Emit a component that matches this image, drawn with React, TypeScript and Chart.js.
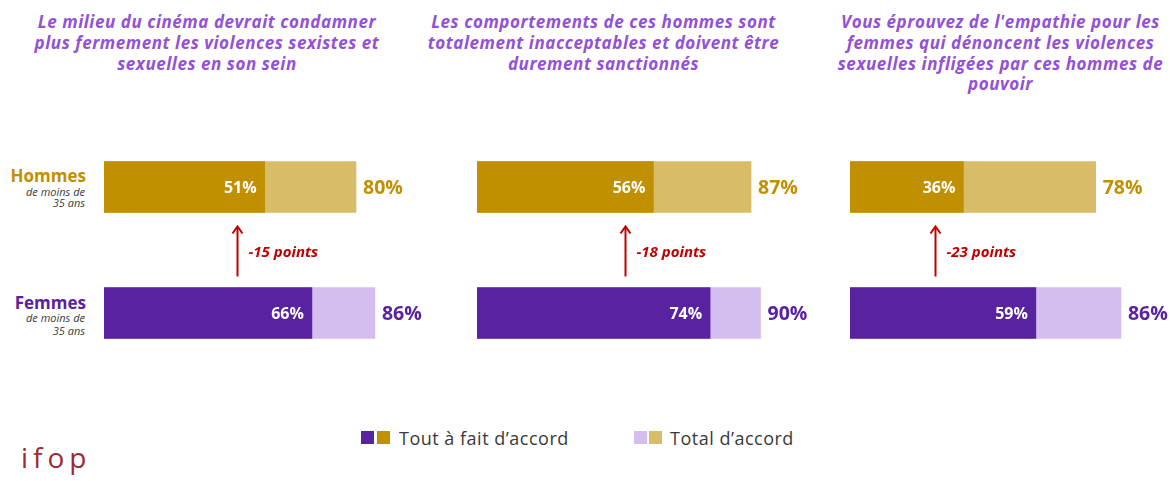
import React, { useEffect, useRef } from 'react';
import { Chart, registerables } from 'chart.js';

Chart.register(...registerables);

// ---------- data ----------
const questions: string[][] = [
  ['Le milieu du cinéma devrait condamner', 'plus fermement les violences sexistes et', 'sexuelles en son sein'],
  ['Les comportements de ces hommes sont', 'totalement inacceptables et doivent être', 'durement sanctionnés'],
  ["Vous éprouvez de l'empathie pour les", 'femmes qui dénoncent les violences', 'sexuelles infligées par ces hommes de', 'pouvoir'],
];
const groups = ['Hommes', 'Femmes'];
const groupSub = ['de moins de', '35 ans'];
const hommesTout = [51, 56, 36];
const hommesTotal = [80, 87, 78];
const femmesTout = [66, 74, 59];
const femmesTotal = [86, 90, 86];
const seriesNames = ['Tout à fait d’accord', 'Total d’accord'];

// ---------- styles ----------
const FONT = '"Open Sans", "DejaVu Sans", sans-serif';
const GOLD = '#C09000';
const LGOLD = '#D9BC68';
const PURPLE = '#5822A1';
const LPURPLE = '#D4BDEF';
const TITLE = '#9350D8';
const RED = '#C00000';
const GREY = '#3A3A3A';

const panelLeft = [104, 477, 850];
const panelWidth = [375, 375, 320];
const PLOT_W = 315;
const CANVAS_TOP = 124;
const CANVAS_H = 252;

function Panel({ index }: { index: number }) {
  const ref = useRef<HTMLCanvasElement>(null);
  useEffect(() => {
    const width = panelWidth[index];
    const labelPlugin = {
      id: 'panelLabels',
      afterDatasetsDraw(chart: any) {
        const ctx = chart.ctx as CanvasRenderingContext2D;
        const xs = chart.scales.x;
        const ys = chart.scales.y;
        const half = 25.5;
        ctx.save();
        ctx.textBaseline = 'middle';
        for (let j = 0; j < groups.length; j++) {
          const y = ys.getPixelForValue(j);
          const tout = chart.data.datasets[0].data[j] as number;
          const total = chart.data.datasets[1].data[j] as number;
          ctx.font = `bold 16px ${FONT}`;
          ctx.fillStyle = '#FFFFFF';
          ctx.textAlign = 'right';
          ctx.fillText(`${tout}%`, xs.getPixelForValue(tout) - 8, y + 1);
          ctx.font = `bold 19.5px ${FONT}`;
          ctx.fillStyle = j === 0 ? GOLD : PURPLE;
          ctx.textAlign = 'left';
          ctx.fillText(`${total}%`, xs.getPixelForValue(total) + 7, y + 1);
        }
        // arrow
        const h = chart.data.datasets[0].data[0] as number;
        const f = chart.data.datasets[0].data[1] as number;
        const ax = Math.round(xs.getPixelForValue(h) - 28) + 0.5;
        const top = ys.getPixelForValue(0) + half + 14;
        const bottom = ys.getPixelForValue(1) - half - 11;
        ctx.strokeStyle = RED;
        ctx.lineWidth = 2;
        ctx.beginPath();
        ctx.moveTo(ax, bottom);
        ctx.lineTo(ax, top + 1);
        ctx.stroke();
        ctx.beginPath();
        ctx.moveTo(ax - 5, top + 7);
        ctx.lineTo(ax, top);
        ctx.lineTo(ax + 5, top + 7);
        ctx.stroke();
        ctx.font = `italic bold 15px ${FONT}`;
        ctx.fillStyle = RED;
        ctx.textAlign = 'left';
        ctx.fillText(`${h - f} points`, ax + 11, (top + bottom) / 2 + 1);
        ctx.restore();
      },
    };
    const chart = new Chart(ref.current!, {
      type: 'bar',
      data: {
        labels: groups,
        datasets: [
          {
            label: seriesNames[0],
            data: [hommesTout[index], femmesTout[index]],
            backgroundColor: [GOLD, PURPLE],
            order: 0,
            grouped: false,
            barThickness: 51,
          } as any,
          {
            label: seriesNames[1],
            data: [hommesTotal[index], femmesTotal[index]],
            backgroundColor: [LGOLD, LPURPLE],
            order: 1,
            grouped: false,
            barThickness: 51,
          } as any,
        ],
      },
      options: {
        indexAxis: 'y',
        responsive: false,
        animation: false,
        devicePixelRatio: 1,
        layout: { padding: { left: 0, right: width - PLOT_W, top: 0, bottom: 0 } },
        scales: {
          x: { display: false, min: 0, max: 100 },
          y: { display: false },
        },
        plugins: { legend: { display: false }, tooltip: { enabled: false } },
      },
      plugins: [labelPlugin],
    });
    return () => chart.destroy();
  }, [index]);
  return (
    <canvas
      ref={ref}
      width={panelWidth[index]}
      height={CANVAS_H}
      style={{ position: 'absolute', left: panelLeft[index], top: CANVAS_TOP, width: panelWidth[index], height: CANVAS_H }}
    />
  );
}

// text line positioned by its baseline (Open Sans metrics)
function Line(props: {
  text: string; baseline: number; size: number; left?: number; right?: number; color: string;
  weight?: string; italic?: boolean; spacing?: number;
}) {
  const { text, baseline, size, left, right, color, weight, italic, spacing } = props;
  const style: React.CSSProperties = {
    position: 'absolute',
    top: baseline - 0.888 * size,
    fontFamily: FONT,
    fontSize: size,
    lineHeight: `${size}px`,
    color,
    fontWeight: weight || 'normal',
    fontStyle: italic ? 'italic' : 'normal',
    whiteSpace: 'nowrap',
    letterSpacing: spacing ? `${spacing}px` : undefined,
  };
  if (right !== undefined) {
    style.left = 0;
    style.width = right;
    style.textAlign = 'right';
  } else {
    style.left = left;
  }
  return <div style={style}>{text}</div>;
}

const titleCenter = [207, 603.5, 1000.5];

export default function App() {
  return (
    <div style={{ position: 'absolute', left: 0, top: 0, width: 1170, height: 481, background: '#FFFFFF', overflow: 'hidden' }}>
      {questions.map((q, i) => (
        <div
          key={i}
          style={{
            position: 'absolute', left: titleCenter[i] - 210, width: 420, top: 12,
            textAlign: 'center', fontFamily: FONT, fontSize: 17, lineHeight: '20.8px',
            fontWeight: 'bold', fontStyle: 'italic', color: TITLE, whiteSpace: 'nowrap',
            letterSpacing: '0.55px',
          }}
        >
          {q.map((l, k) => (
            <div key={k}>{l}</div>
          ))}
        </div>
      ))}

      <Line text={groups[0]} baseline={182} size={17} right={86} color={GOLD} weight="bold" />
      <Line text={groupSub[0]} baseline={195.5} size={11} right={85} color={GREY} italic />
      <Line text={groupSub[1]} baseline={207} size={11} right={85} color={GREY} italic />
      <Line text={groups[1]} baseline={309} size={17} right={86} color={PURPLE} weight="bold" />
      <Line text={groupSub[0]} baseline={322} size={11} right={85} color={GREY} italic />
      <Line text={groupSub[1]} baseline={335} size={11} right={85} color={GREY} italic />

      {[0, 1, 2].map((i) => (
        <Panel key={i} index={i} />
      ))}

      {/* legend */}
      <div style={{ position: 'absolute', left: 361, top: 431, width: 13, height: 13, background: PURPLE }} />
      <div style={{ position: 'absolute', left: 377, top: 431, width: 13, height: 13, background: GOLD }} />
      <Line text={seriesNames[0]} baseline={445} size={18} left={399} color={GREY} spacing={0.5} />
      <div style={{ position: 'absolute', left: 634, top: 431, width: 13, height: 13, background: LPURPLE }} />
      <div style={{ position: 'absolute', left: 649, top: 431, width: 13, height: 13, background: LGOLD }} />
      <Line text={seriesNames[1]} baseline={445} size={18} left={670} color={GREY} spacing={0.5} />

      {/* logo */}
      <Line text="ifop" baseline={468} size={28} left={21} color="#A0282F" spacing={5} />
    </div>
  );
}
